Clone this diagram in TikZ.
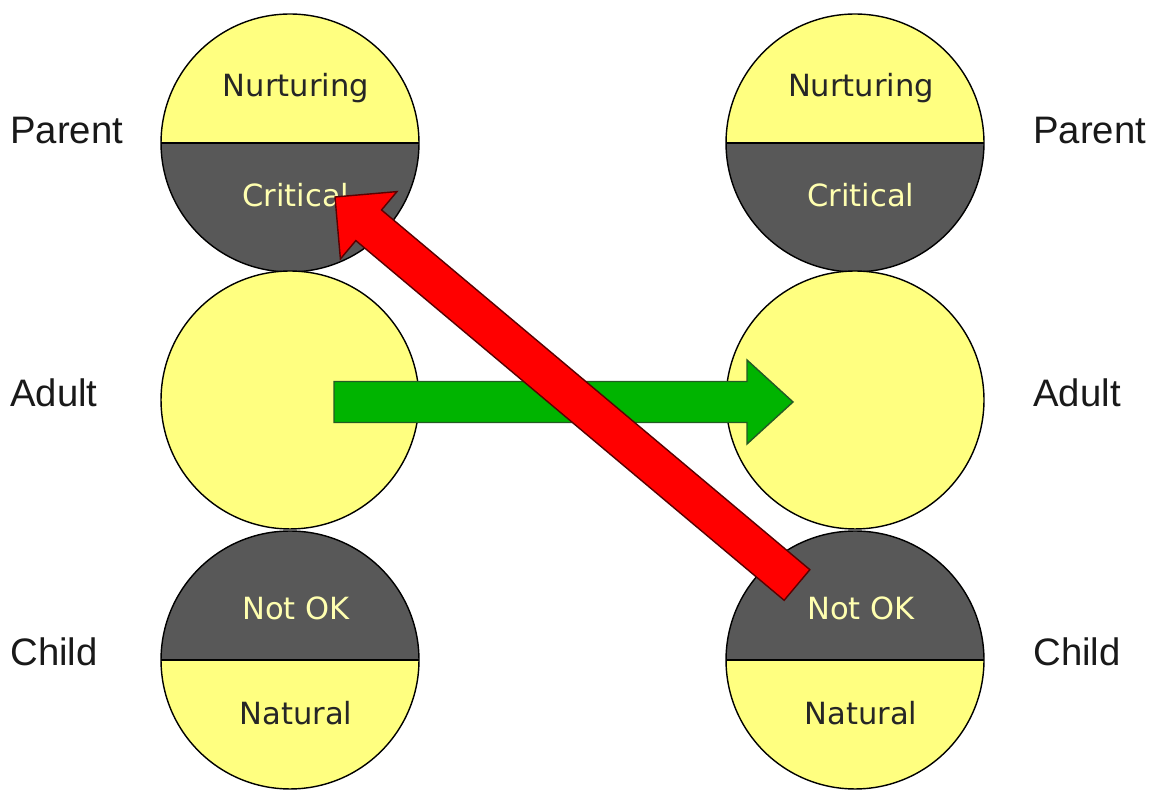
\documentclass[tikz,border=0pt]{standalone}
\usepackage{fontspec}
\setmainfont{Liberation Sans}
\newfontfamily\innerfont{DejaVu Sans}
\usetikzlibrary{calc}
\usetikzlibrary{positioning}

\definecolor{egoyellow}{HTML}{FFFF80}
\definecolor{egodark}{HTML}{585858}
\definecolor{egolight}{HTML}{FFFFB0}
\definecolor{okgreen}{HTML}{00B400}
\definecolor{okgreenline}{HTML}{245A24}
\definecolor{notred}{HTML}{FF0000}
\definecolor{notredline}{HTML}{5A0000}

\begin{document}
\begin{tikzpicture}[x=0.02cm, y=0.02cm,
    state/.style={circle, draw=black, line width=0.8pt, fill=egoyellow, minimum size=5.16cm, inner sep=0pt},
    darkbottom/.style={path picture={\fill[egodark] (path picture bounding box.west) rectangle (path picture bounding box.south east);
        \draw[line width=1.3pt] (path picture bounding box.west) -- (path picture bounding box.east);}},
    darktop/.style={path picture={\fill[egodark] (path picture bounding box.north west) rectangle (path picture bounding box.east);
        \draw[line width=1.3pt] (path picture bounding box.west) -- (path picture bounding box.east);}},
    darktext/.style={anchor=base, inner sep=0pt, text=black!85, font=\innerfont\fontsize{17.4}{20}\selectfont},
    lighttext/.style={darktext, text=egolight},
    side/.style={anchor=base west, inner sep=0pt, text=black!90, font=\fontsize{21.8}{26}\selectfont},
    okarrow/.style={fill=okgreen, draw=okgreenline, line width=0.8pt, line join=miter},
    notarrow/.style={fill=notred, draw=notredline, line width=0.8pt, line join=miter}]

        % Fix the size of the picture
        \fill[white] (0,0) rectangle (1152,790);
        \useasboundingbox (0,0) rectangle (1152,790);

        % Draw the two columns of ego states
        \foreach \s/\x in {L/290, R/855}
        {
          \node[state, darkbottom] (parent\s) at (\x,647) {};
          \node[state] (adult\s) at (\x,390) {};
          \node[state, darktop] (child\s) at (\x,130) {};

          \node[darktext] (nurt\s) at ([shift={(6,46)}]parent\s.center) {Nurturing};
          \node[lighttext] (crit\s) at ([shift={(6,-64)}]parent\s.center) {Critical};
          \node[lighttext] (notok\s) at ([shift={(6,40)}]child\s.center) {Not OK};
          \node[darktext] (nat\s) at ([shift={(6,-65)}]child\s.center) {Natural};
        }

        % Side labels
        \node[side] (parentLlab) at (10,646) {Parent};
        \node[side] (adultLlab) at (10,383) {Adult};
        \node[side] (childLlab) at (10,124) {Child};
        \node[side] (parentRlab) at (1033,646) {Parent};
        \node[side] (adultRlab) at (1033,383) {Adult};
        \node[side] (childRlab) at (1033,124) {Child};

        % Block arrow: style, tail, tip, half shaft, half head, head length
        \def\blockarrow#1#2#3#4#5#6{%
          \coordinate (hb) at ($(#3)!#6!(#2)$);
          \draw[#1] ($(#2)!#4!90:(#3)$) -- ($(hb)!#4!90:(#3)$) -- ($(hb)!#5!90:(#3)$) -- (#3)
            -- ($(hb)!#5!-90:(#3)$) -- ($(hb)!#4!-90:(#3)$) -- ($(#2)!#4!-90:(#3)$) -- cycle;
        }

        % Adult to adult
        \coordinate (okTail) at ([shift={(44,-2)}]adultL.center);
        \coordinate (okTip) at ([shift={(-62,-2)}]adultR.center);
        \blockarrow{okarrow}{okTail}{okTip}{0.41cm}{0.84cm}{0.92cm}

        % Child to critical parent
        \coordinate (notTail) at ([shift={(-58,75)}]childR.center);
        \coordinate (notTip) at ([shift={(45,-54)}]parentL.center);
        \blockarrow{notarrow}{notTail}{notTip}{0.4cm}{0.88cm}{0.88cm}
      \end{tikzpicture}
\end{document}
